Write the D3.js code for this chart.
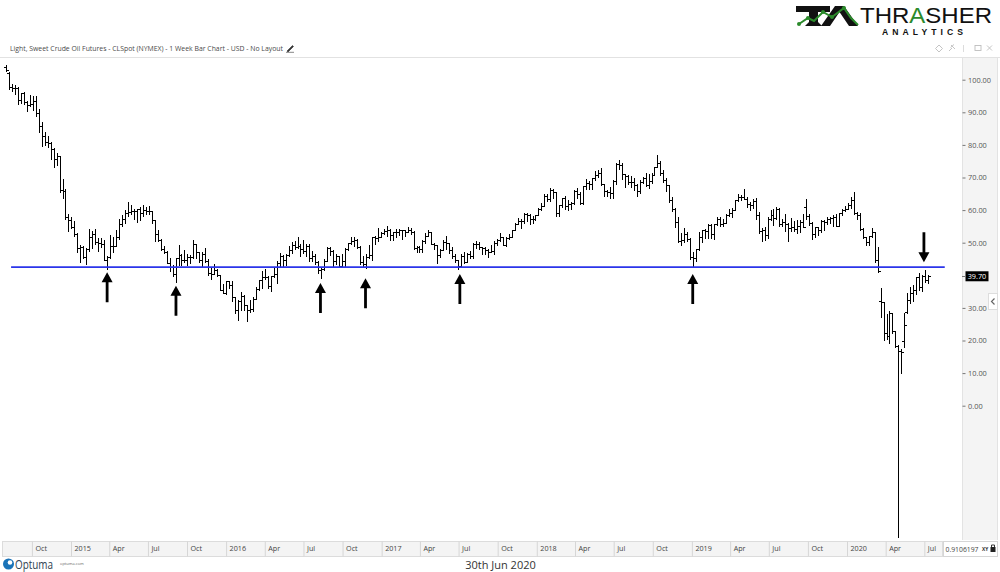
<!DOCTYPE html>
<html><head><meta charset="utf-8">
<script src="https://cdn.jsdelivr.net/npm/d3@7"></script>
<style>
html,body{margin:0;padding:0;background:#fff;}
svg{display:block;font-family:"Open Sans",sans-serif;}
</style></head><body>
<svg id="chart" width="1000" height="572"></svg>
<script>
// ---------------- DATA ----------------
const titleText = "Light, Sweet Crude Oil Futures - CLSpot (NYMEX) - 1 Week Bar Chart - USD - No Layout";
const dateLabel = "30th Jun 2020";
const firstBarDate = "2014-08-01";   // weekly bars, one per week from here
// [open, high, low, close]
const ohlc2014 = [
 [103.8,104.6,102.6,103.0],[102.1,102.3,97.0,97.9],[97.9,98.7,96.6,97.6],[97.6,98.4,95.5,97.4],
 [97.4,97.7,92.5,93.7],[93.7,96.0,92.9,95.9],[95.9,96.1,92.5,93.3],[93.3,93.6,90.4,92.3],
 [92.3,95.2,91.9,92.4],[92.4,94.9,90.6,93.5],[93.5,95.0,88.8,89.7],[89.7,91.0,84.0,85.8],
 [85.8,86.9,79.8,82.8],[82.8,83.9,80.0,81.0],[81.0,82.6,79.4,80.5],[80.5,80.8,75.8,78.7],
 [78.7,79.2,73.3,75.8],[75.8,77.6,73.8,76.5],[76.5,76.7,65.7,66.2],[66.2,69.5,63.7,65.8],
 [65.8,66.6,57.3,57.8],[57.8,58.9,53.6,57.1],[57.1,57.8,54.5,54.7]
];
const ohlc2015 = [
 [54.7,56.6,52.0,52.7],[52.7,53.1,47.0,48.4],[48.4,49.3,44.2,48.7],[48.7,48.9,45.2,45.6],
 [45.6,48.3,43.6,48.2],[48.2,54.2,47.4,51.7],[51.7,53.6,48.5,52.8],[52.8,54.2,49.6,50.3],
 [50.3,51.4,47.4,49.8],[49.8,51.3,48.6,49.6],[49.6,50.8,44.8,44.8],[44.8,46.0,42.0,45.7],
 [45.7,52.5,45.3,48.9],[48.9,51.6,47.1,49.1],[49.1,53.9,49.0,51.6],[51.6,57.4,51.0,55.7],
 [55.7,58.4,55.0,57.2],[57.2,59.9,56.0,59.2],[59.2,62.6,58.1,59.4],[59.4,61.6,58.9,59.7],
 [59.7,60.2,57.3,59.7],[59.7,60.4,56.5,60.3],[60.3,61.0,56.9,59.1],[59.1,61.6,58.1,60.0],
 [60.0,61.0,58.9,59.6],[59.6,61.3,58.9,59.6],[59.6,59.8,56.0,56.9],[56.9,57.0,50.6,52.7],
 [52.7,53.9,50.6,50.9],[50.9,51.1,47.8,48.1],[48.1,49.1,46.7,47.1],[47.1,47.4,43.8,43.9],
 [43.9,45.4,41.4,42.5],[42.5,43.1,39.9,40.5],[40.5,45.3,37.8,45.2],[45.2,49.3,43.2,46.1],
 [46.1,46.6,43.2,44.6],[44.6,47.7,44.2,44.7],[44.7,46.6,43.2,45.7],[45.7,46.2,43.8,45.5],
 [45.5,50.9,45.3,49.6],[49.6,49.6,45.4,47.3],[47.3,47.3,44.2,44.6],[44.6,47.0,42.6,46.6],
 [46.6,48.4,44.1,44.3],[44.3,44.9,40.2,40.7],[40.7,42.6,38.8,40.4],[40.4,43.5,40.4,41.7],
 [41.7,42.0,39.7,40.0],[40.0,40.2,35.4,35.6],[35.6,37.4,34.5,34.7],[34.7,38.3,34.2,38.1]
];
const ohlc2016 = [
 [38.1,38.4,36.0,37.0],[37.0,38.4,32.1,33.2],[33.2,33.3,28.4,29.4],[29.4,32.3,26.2,32.2],
 [32.2,34.8,29.3,33.6],[33.6,34.1,29.3,30.9],[30.9,31.0,26.1,29.4],[29.4,32.4,28.7,29.6],
 [29.6,33.4,29.2,32.8],[32.8,36.4,32.6,35.9],[35.9,38.5,35.4,38.5],[38.5,41.2,36.2,39.4],
 [39.4,41.9,38.8,39.5],[39.5,39.8,36.0,36.8],[36.8,39.9,35.2,39.7],[39.7,42.4,39.6,40.4],
 [40.4,44.5,37.6,43.7],[43.7,46.8,42.8,45.9],[45.9,46.2,43.0,44.7],[44.7,46.4,43.2,46.2],
 [46.2,49.0,46.0,47.8],[47.8,50.2,46.7,49.3],[49.3,50.5,48.0,48.6],[48.6,51.7,48.4,49.1],
 [49.1,49.5,45.8,48.0],[48.0,50.7,46.7,47.6],[47.6,49.6,45.8,49.0],[49.0,49.5,44.4,45.4],
 [45.4,47.4,44.3,46.0],[46.0,46.6,43.6,44.2],[44.2,44.5,40.6,41.6],[41.6,42.1,39.2,41.8],
 [41.8,44.9,41.7,44.5],[44.5,48.8,44.5,48.5],[48.5,48.8,46.2,47.6],[47.6,47.7,43.0,44.4],
 [44.4,46.5,43.4,45.9],[45.9,46.0,42.8,43.0],[43.0,46.6,42.8,44.5],[44.5,48.3,43.0,48.2],
 [48.2,50.0,47.8,49.8],[49.8,51.6,49.6,50.4],[50.4,51.9,49.1,50.9],[50.9,51.0,48.5,48.7],
 [48.7,48.9,43.6,44.1],[44.1,45.9,43.0,43.4],[43.4,46.6,42.2,45.7],[45.7,49.2,45.3,46.1],
 [46.1,51.8,44.8,51.7],[51.7,52.2,49.6,51.5],[51.5,54.5,50.6,51.9],[51.9,53.3,51.6,53.0],
 [53.0,54.3,52.8,53.7]
];
const ohlc2017 = [
 [53.7,55.2,52.1,54.0],[54.0,54.1,50.7,52.4],[52.4,53.2,50.9,53.2],[53.2,54.3,51.8,53.2],
 [53.2,54.1,52.3,53.8],[53.8,54.0,51.2,53.9],[53.9,54.0,52.2,53.4],[53.4,54.9,53.2,54.0],
 [54.0,54.6,52.6,53.3],[53.3,53.6,48.2,48.5],[48.5,49.0,47.1,48.8],[48.8,48.9,47.1,48.0],
 [48.0,50.9,47.0,50.6],[50.6,52.9,50.0,52.2],[52.2,53.8,52.2,53.2],[53.2,53.3,49.5,49.6],
 [49.6,50.0,48.2,49.3],[49.3,49.3,43.8,46.2],[46.2,48.0,45.6,47.8],[47.8,50.7,47.7,50.3],
 [50.3,52.0,48.2,49.8],[49.8,50.0,46.9,47.7],[47.7,48.8,45.2,45.8],[45.8,46.6,44.2,44.7],
 [44.7,44.8,42.05,43.0],[43.0,46.4,42.8,46.0],[46.0,47.3,43.8,44.2],[44.2,46.7,44.2,46.5],
 [46.5,47.4,45.4,45.8],[45.8,49.9,45.4,49.7],[49.7,50.4,48.3,49.6],[49.6,50.2,48.2,48.8],
 [48.8,48.8,46.5,48.5],[48.5,48.6,46.6,47.9],[47.9,48.0,45.6,47.3],[47.3,49.4,47.0,47.5],
 [47.5,50.6,46.5,49.9],[49.9,51.0,49.2,50.7],[50.7,52.9,50.6,51.7],[51.7,51.8,49.3,49.3],
 [49.3,51.6,49.1,51.5],[51.5,52.8,51.1,51.8],[51.8,54.0,51.6,53.9],[53.9,55.9,53.8,55.6],
 [55.6,57.7,55.6,56.7],[56.7,57.3,54.5,56.6],[56.6,59.0,56.1,58.9],[58.9,59.0,56.8,58.4],
 [58.4,58.7,55.8,57.4],[57.4,58.1,56.1,57.3],[57.3,58.5,56.9,58.5],[58.5,60.5,58.4,60.4]
];
const ohlc2018 = [
 [60.4,62.2,60.1,61.4],[61.4,64.8,61.3,64.3],[64.3,64.9,62.8,63.4],[63.4,66.7,62.9,66.1],
 [66.1,66.4,63.6,65.5],[65.5,65.6,58.1,59.2],[59.2,61.7,58.2,61.7],[61.7,63.7,60.8,63.6],
 [63.6,64.2,60.2,61.3],[61.3,63.0,60.1,62.0],[62.0,62.4,60.2,62.3],[62.3,66.2,62.0,65.9],
 [65.9,66.7,63.6,64.9],[64.9,65.5,61.8,62.1],[62.1,67.5,62.0,67.4],[67.4,69.6,66.5,68.4],
 [68.4,69.0,66.6,68.1],[68.1,70.0,66.4,69.7],[69.7,71.9,69.2,70.7],[70.7,72.3,70.2,71.3],
 [71.3,72.8,67.6,67.9],[67.9,68.1,64.2,65.8],[65.8,66.3,64.2,65.7],[65.7,67.1,63.6,65.1],
 [65.1,69.3,63.6,69.0],[69.0,74.5,68.0,74.2],[74.2,75.3,72.7,73.8],[73.8,74.6,69.6,71.0],
 [71.0,71.1,67.0,70.5],[70.5,70.7,67.9,68.7],[68.7,70.4,67.0,68.5],[68.5,69.8,66.3,67.6],
 [67.6,67.9,64.4,65.9],[65.9,69.1,65.2,68.7],[68.7,70.3,68.3,69.8],[69.8,71.4,67.4,67.8],
 [67.8,71.0,66.9,69.0],[69.0,71.3,68.2,70.8],[70.8,73.3,70.7,73.3],[73.3,76.9,73.1,74.3],
 [74.3,75.1,70.7,71.3],[71.3,72.3,68.5,69.1],[69.1,69.9,65.8,67.6],[67.6,67.8,62.6,63.1],
 [63.1,63.9,59.6,60.2],[60.2,60.6,54.8,56.5],[56.5,57.8,50.2,50.4],[50.4,52.9,49.4,50.9],
 [50.9,54.6,50.3,52.6],[52.6,53.3,50.4,51.2],[51.2,51.3,45.1,45.6],[45.6,47.2,42.4,45.3]
];
const ohlc2019 = [
 [45.3,48.0,44.4,48.0],[48.0,53.3,47.9,51.6],[51.6,54.0,50.1,53.8],[53.8,54.3,51.3,53.7],
 [53.7,55.8,51.3,55.3],[55.3,55.6,51.3,52.7],[52.7,55.6,51.2,55.6],[55.6,57.8,55.3,57.3],
 [57.3,57.9,55.1,55.8],[55.8,57.3,55.2,56.1],[56.1,58.7,55.9,58.5],[58.5,60.4,58.2,59.0],
 [59.0,60.5,58.0,60.1],[60.1,63.1,60.1,63.1],[63.1,64.8,62.7,63.9],[63.9,64.5,63.0,64.0],
 [64.0,66.6,63.3,63.3],[63.3,64.1,61.0,61.9],[61.9,62.5,60.0,61.7],[61.7,63.3,60.6,62.8],
 [62.8,63.8,57.3,58.6],[58.6,59.5,53.0,53.5],[53.5,54.4,50.6,54.0],[54.0,54.8,50.7,52.5],
 [52.5,58.0,51.3,57.4],[57.4,59.9,57.0,58.5],[58.5,60.3,55.3,57.5],[57.5,61.0,57.3,60.2],
 [60.2,60.7,55.0,55.6],[55.6,57.4,55.2,56.2],[56.2,58.8,53.6,55.7],[55.7,55.9,50.5,54.5],
 [54.5,57.5,53.7,54.9],[54.9,56.6,53.6,54.2],[54.2,56.9,52.9,55.1],[55.1,57.1,53.2,56.5],
 [56.5,58.8,54.7,54.9],[61.0,63.4,57.2,58.1],[58.1,58.8,55.4,55.9],[55.9,56.4,51.0,52.8],
 [52.8,54.9,51.9,54.7],[54.7,54.7,52.4,53.8],[53.8,56.9,53.4,56.7],[56.7,56.9,53.9,56.2],
 [56.2,57.9,55.8,57.2],[57.2,57.8,56.1,57.7],[57.7,58.4,55.0,57.8],[57.8,58.7,55.1,55.2],
 [55.2,59.2,55.0,59.2],[59.2,60.3,58.4,60.1],[60.1,61.4,59.7,60.4],[60.4,62.3,60.3,61.7]
];
const ohlc2020 = [
 [61.7,64.1,60.6,63.1],[63.1,65.7,58.8,59.0],[59.0,59.4,57.4,58.5],[58.5,59.0,54.0,54.2],
 [54.2,54.4,51.3,51.6],[51.6,51.7,49.3,50.3],[50.3,52.2,49.4,52.1],[52.1,54.5,51.6,53.4],
 [53.4,53.4,44.0,44.8],[44.8,48.7,41.1,41.3],[32.0,36.0,27.3,31.7],[31.7,31.8,20.1,22.4],
 [22.4,28.0,20.5,21.5],[21.5,29.1,19.3,28.3],[28.3,28.4,22.3,22.8],[22.8,23.0,18.0,18.3],
 [18.3,18.6,-40.3,16.9],[16.9,17.4,10.1,16.5],[19.8,28.5,18.0,24.7],[28.6,34.5,28.4,32.5],
 [32.5,36.5,31.4,34.7],[34.7,37.0,32.0,35.5],[35.5,39.6,34.4,39.6],[39.6,40.6,35.4,36.3],
 [36.3,40.0,35.2,39.8],[39.8,41.6,37.8,38.5],[38.5,40.0,37.6,39.7]
];
const lastPrice = 39.70;
const yTickValues = [0,10,20,30,50,60,70,80,90,100];
const supportLevel = 42.5;
const supportFrom = "2014-08-13", supportTo = "2020-08-18";
const upArrowDates = ["2015-03-27","2015-09-05","2016-08-10","2016-11-24","2017-07-04","2019-01-03"];
const upArrowTips  = [40.9, 36.8, 37.6, 39.1, 40.4, 40.4];
const downArrowDates = ["2020-06-30"];
const downArrowTips  = [44.0];

// ---------------- CHART ----------------
const bars = [...ohlc2014, ...ohlc2015, ...ohlc2016, ...ohlc2017, ...ohlc2018, ...ohlc2019, ...ohlc2020]
  .map((v, i) => ({date: d3.utcDay.offset(new Date(firstBarDate + "T00:00:00Z"), 7 * i), o: v[0], h: v[1], l: v[2], c: v[3]}));
const P = s => new Date(s + "T00:00:00Z");

const svg = d3.select("#chart");
const plotL = 0, plotR = 962, plotT = 57, plotB = 540;

const x = d3.scaleUtc().domain([P("2015-01-01"), P("2020-01-01")]).range([71, 847]);
const y = d3.scaleLinear().domain([0, 100]).range([405.7, 79.7]);

// header
svg.append("text").attr("x", 10).attr("y", 51).attr("font-size", 7.6).attr("fill", "#4a4a4a")
  .attr("textLength", 273).attr("lengthAdjust", "spacingAndGlyphs").text(titleText);
svg.append("path").attr("d", "M287,51 L292.5,45.5 L293.5,46.5 L288,52 Z M286,52.3 H294").attr("fill", "#333").attr("stroke", "#333").attr("stroke-width", 0.6);
svg.append("line").attr("x1", 0).attr("x2", 1000).attr("y1", 57.5).attr("y2", 57.5).attr("stroke", "#e2e2e2");

// top-right icons
const ic = svg.append("g").attr("fill", "none").attr("stroke", "#bdbdbd").attr("stroke-width", 0.9);
ic.append("path").attr("d", "M939,45 L942.5,48.5 L939,52 L935.5,48.5 Z");
ic.append("path").attr("d", "M949,51 L952,48 M951,45 L955,49 M950.5,47.5 L954,44.5");
ic.append("path").attr("d", "M963.5,45 V52").attr("stroke", "#d8d8d8");
ic.append("rect").attr("x", 975).attr("y", 45.5).attr("width", 6).attr("height", 5);
ic.append("path").attr("d", "M987,45.5 L992,50.5 M992,45.5 L987,50.5");

// right axis panel
svg.append("rect").attr("x", plotR).attr("y", plotT + 1).attr("width", 36).attr("height", plotB - plotT - 1).attr("fill", "#f4f4f4");
svg.append("line").attr("x1", plotR + 0.5).attr("x2", plotR + 0.5).attr("y1", plotT).attr("y2", plotB).attr("stroke", "#e3e3e3");
svg.append("line").attr("x1", 997.5).attr("x2", 997.5).attr("y1", plotT).attr("y2", plotB).attr("stroke", "#e3e3e3");

// clip for plot
svg.append("defs").append("clipPath").attr("id", "clip").append("rect")
  .attr("x", plotL).attr("y", plotT + 1).attr("width", plotR - plotL).attr("height", plotB - plotT - 1);
const plot = svg.append("g").attr("clip-path", "url(#clip)");

// OHLC bars
const px = d => Math.round(x(d.date));
const py = v => Math.round(y(v)) + 0.5;
plot.append("path")
  .attr("fill", "none").attr("stroke", "#000").attr("stroke-width", 1).attr("shape-rendering", "crispEdges")
  .attr("d", bars.map(d => {
    const xi = px(d) + 0.5;
    return `M${xi},${Math.round(y(d.h))}V${Math.round(y(d.l)) + 1}` +
           `M${xi - 2.5},${py(d.o)}H${xi}` +
           `M${xi},${py(d.c)}H${xi + 2.5}`;
  }).join(""));

// support line
plot.append("line")
  .attr("x1", x(P(supportFrom))).attr("x2", x(P(supportTo)))
  .attr("y1", y(supportLevel)).attr("y2", y(supportLevel))
  .attr("stroke", "#2b35ea").attr("stroke-width", 1.7);

// arrows
const arrowLen = 30, headW = 5.5, headH = 10, shaftW = 1.4;
upArrowDates.forEach((dt, i) => {
  const ax = x(P(dt)), ay = y(upArrowTips[i]);
  plot.append("path").attr("fill", "#000")
    .attr("d", `M${ax},${ay} L${ax + headW},${ay + headH} L${ax + shaftW},${ay + headH} L${ax + shaftW},${ay + arrowLen} L${ax - shaftW},${ay + arrowLen} L${ax - shaftW},${ay + headH} L${ax - headW},${ay + headH} Z`);
});
downArrowDates.forEach((dt, i) => {
  const ax = x(P(dt)), ay = y(downArrowTips[i]);
  plot.append("path").attr("fill", "#000")
    .attr("d", `M${ax},${ay} L${ax + headW},${ay - headH} L${ax + shaftW},${ay - headH} L${ax + shaftW},${ay - arrowLen} L${ax - shaftW},${ay - arrowLen} L${ax - shaftW},${ay - headH} L${ax - headW},${ay - headH} Z`);
});

// right axis
const yAxis = d3.axisRight(y).tickValues(yTickValues).tickFormat(d3.format(".2f")).tickSize(3).tickPadding(2.5);
const ya = svg.append("g").attr("transform", `translate(${plotR + 0.5},0)`).call(yAxis);
ya.select(".domain").remove();
ya.selectAll(".tick line").attr("stroke", "#777");
ya.selectAll(".tick text").attr("fill", "#555").attr("font-size", 7.4).attr("font-family", "Open Sans");

// last price label
const lpY = y(lastPrice);
svg.append("line").attr("x1", plotR).attr("x2", plotR + 3).attr("y1", Math.round(lpY) + 0.5).attr("y2", Math.round(lpY) + 0.5).attr("stroke", "#777");
svg.append("rect").attr("x", 965.5).attr("y", lpY - 5).attr("width", 23).attr("height", 10).attr("fill", "#000");
svg.append("text").attr("x", 977).attr("y", lpY + 2.6).attr("text-anchor", "middle").attr("font-size", 7.3).attr("fill", "#fff").text(d3.format(".2f")(lastPrice));

// small collapse button on right
svg.append("rect").attr("x", 988.5).attr("y", 293.5).attr("width", 9).attr("height", 16).attr("fill", "#fff").attr("stroke", "#ddd");
svg.append("path").attr("d", "M994.5,298.5 L991.5,301.5 L994.5,304.5").attr("fill", "none").attr("stroke", "#666").attr("stroke-width", 1.2);

// bottom time axis strip
const stripT = 541, stripH = 15;
svg.append("rect").attr("x", 2.5).attr("y", stripT + 0.5).attr("width", 940).attr("height", stripH).attr("fill", "#f4f4f4").attr("stroke", "#dcdcdc");
const xTicks = d3.utcMonth.every(3).range(P("2014-10-01"), P("2020-08-01"));
const xAxis = d3.axisBottom(x).tickValues(xTicks).tickSize(stripH)
  .tickFormat(d => d.getUTCMonth() === 0 ? d3.utcFormat("%Y")(d) : d3.utcFormat("%b")(d));
const xa = svg.append("g").attr("transform", `translate(0,${stripT + 0.5})`).call(xAxis);
xa.select(".domain").remove();
xa.selectAll(".tick line").attr("stroke", "#d6d6d6");
xa.selectAll(".tick text").attr("text-anchor", "start").attr("x", 3).attr("y", 4).attr("dy", "0.71em")
  .attr("fill", "#444").attr("font-size", 7.2).attr("font-family", "Open Sans");

// scale box bottom-right
svg.append("rect").attr("x", 943.5).attr("y", stripT + 0.5).attr("width", 54).attr("height", stripH).attr("fill", "#fff").attr("stroke", "#d6d6d6");
svg.append("text").attr("x", 945.5).attr("y", stripT + 10.5).attr("font-size", 7.2).attr("fill", "#444")
  .attr("textLength", 33).attr("lengthAdjust", "spacingAndGlyphs").text("0.9106197");
svg.append("text").attr("x", 982).attr("y", stripT + 9.8).attr("font-size", 4.8).attr("font-weight", 700).attr("fill", "#333").text("XY");
svg.append("rect").attr("x", 990.5).attr("y", stripT + 6).attr("width", 5).attr("height", 5).attr("fill", "#222");
svg.append("path").attr("d", `M991.5,${stripT + 6} V${stripT + 4} H994.5 V${stripT + 6}`).attr("fill", "none").attr("stroke", "#222").attr("stroke-width", 0.9);

// footer: Optuma logo + date
const ol = svg.append("g");
ol.append("circle").attr("cx", 8.5).attr("cy", 564).attr("r", 5.5).attr("fill", "#1a73b8");
ol.append("circle").attr("cx", 10).attr("cy", 562.5).attr("r", 2.3).attr("fill", "#fff");
ol.append("text").attr("x", 15).attr("y", 568.5).attr("font-size", 12).attr("fill", "#2d3e50").attr("font-family", "Open Sans")
  .attr("textLength", 38).attr("lengthAdjust", "spacingAndGlyphs").text("Optuma");
ol.append("text").attr("x", 60).attr("y", 564.5).attr("font-size", 4).attr("fill", "#666").text("optuma.com");
svg.append("text").attr("x", 500.5).attr("y", 568.5).attr("text-anchor", "middle").attr("font-size", 11)
  .attr("fill", "#333").attr("font-family", "Open Sans").text(dateLabel);

// Thrasher Analytics logo
const lg = svg.append("g");
lg.append("path").attr("fill", "#111")
  .attr("d", "M796,6 H830 V12 H818 V22 L822,26 H805 L809,22 V12 H796 Z");
lg.append("path").attr("fill", "#111")
  .attr("d", "M821,26 L835,6 H844 L858,26 H849 L839.5,12 L830,26 Z");
lg.append("polyline").attr("fill", "none").attr("stroke", "#2b8a2b").attr("stroke-width", 2)
  .attr("points", "799,24 808,18 814,21 823,12 832,17 844,8 851,18 858,25");
[[799,24],[808,18],[823,12],[832,17],[844,8]].forEach(p =>
  lg.append("circle").attr("cx", p[0]).attr("cy", p[1]).attr("r", 2).attr("fill", "#2b8a2b"));
const th = lg.append("text").attr("x", 860).attr("y", 22.5).attr("font-size", 21.5).attr("font-family", "Liberation Sans")
  .attr("font-weight", 400).attr("fill", "#111").attr("textLength", 132).attr("lengthAdjust", "spacingAndGlyphs");
th.append("tspan").text("THR");
th.append("tspan").attr("fill", "#2b8a2b").text("A");
th.append("tspan").text("SHER");
lg.append("text").attr("x", 882).attr("y", 35).attr("font-size", 8.6).attr("font-weight", 700)
  .attr("font-family", "Liberation Sans").attr("fill", "#111").attr("textLength", 81).attr("lengthAdjust", "spacing").text("ANALYTICS");
</script>
</body></html>
